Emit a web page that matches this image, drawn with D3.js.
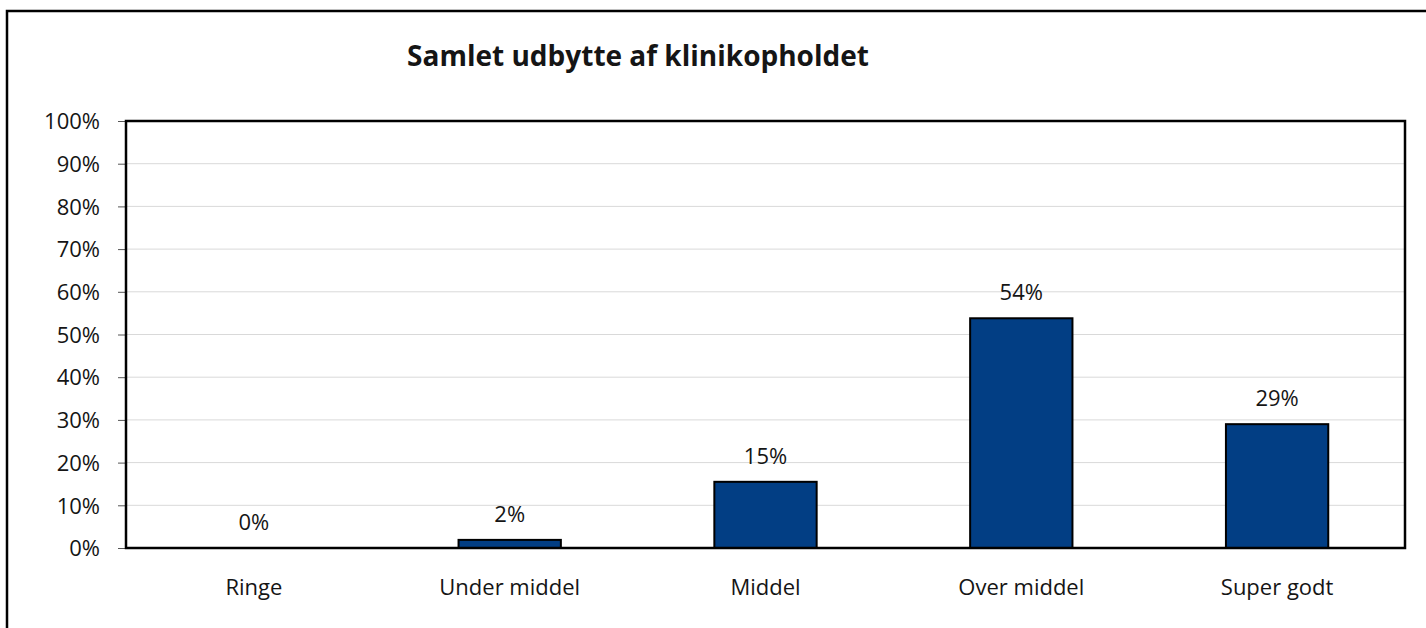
<!doctype html>
<html lang="da">
   <head>
      <meta charset="utf-8">
      <title>Samlet udbytte af klinikopholdet</title>
      <script src="https://d3js.org/d3.v7.min.js"></script>
      <style>
         body { margin: 0; background: #fff; }
         svg text { font-family: "Open Sans", sans-serif; fill: #151515; }
      </style>
   </head>
   <body>
      <svg id="chart" width="1426" height="628"></svg>
      <script>
      var title = "Samlet udbytte af klinikopholdet";
      var categories = ["Ringe", "Under middel", "Middel", "Over middel", "Super godt"];
      var values = [0, 0.019, 0.155, 0.538, 0.29];
      var labels = ["0%", "2%", "15%", "54%", "29%"];
      var yTicks = [0, 0.1, 0.2, 0.3, 0.4, 0.5, 0.6, 0.7, 0.8, 0.9, 1];

      var svg = d3.select("#chart"),
         plotLeft = 126, plotTop = 121, plotRight = 1405, plotBottom = 548;

      // outer chart frame (cut off at right and bottom like the source)
      svg.append("path")
         .attr("d", "M7,640 V11 H1440")
         .attr("fill", "none")
         .attr("stroke", "#000")
         .attr("stroke-width", 2.5);

      svg.append("text")
         .attr("x", 638)
         .attr("y", 66)
         .attr("text-anchor", "middle")
         .attr("font-size", 28)
         .attr("font-weight", 700)
         .text(title);

      var x = d3.scaleBand()
         .domain(categories)
         .range([plotLeft, plotRight])
         .paddingInner(0.6)
         .paddingOuter(0.3);

      var y = d3.scaleLinear()
         .domain([0, 1])
         .range([plotBottom, plotTop]);

      // gridlines
      svg.append("g")
         .selectAll("line")
         .data(yTicks.slice(1, -1))
         .enter().append("line")
         .attr("x1", plotLeft)
         .attr("x2", plotRight)
         .attr("y1", function(d) { return y(d); })
         .attr("y2", function(d) { return y(d); })
         .attr("stroke", "#d9d9d9")
         .attr("stroke-width", 1);

      var yAxis = svg.append("g")
         .attr("transform", "translate(" + plotLeft + ",0)")
         .call(d3.axisLeft(y).tickValues(yTicks).tickFormat(d3.format(".0%")).tickSize(8).tickPadding(18));
      yAxis.select(".domain").remove();
      yAxis.selectAll("line").attr("stroke", "#555");
      yAxis.selectAll("text").attr("font-size", 22).attr("dy", "0.35em");

      var xAxis = svg.append("g")
         .attr("transform", "translate(0," + plotBottom + ")")
         .call(d3.axisBottom(x).tickSize(0).tickPadding(31));
      xAxis.select(".domain").remove();
      xAxis.selectAll("text").attr("font-size", 22);

      svg.append("g")
         .selectAll("rect")
         .data(values)
         .enter().append("rect")
         .attr("x", function(d, i) { return x(categories[i]); })
         .attr("y", function(d) { return y(d); })
         .attr("width", x.bandwidth())
         .attr("height", function(d) { return plotBottom - y(d); })
         .attr("fill", "#023e84")
         .attr("stroke", "#000")
         .attr("stroke-width", 2);

      svg.append("g")
         .selectAll("text")
         .data(values)
         .enter().append("text")
         .attr("x", function(d, i) { return x(categories[i]) + x.bandwidth() / 2; })
         .attr("y", function(d) { return y(d) - 18; })
         .attr("text-anchor", "middle")
         .attr("font-size", 22)
         .text(function(d, i) { return labels[i]; });

      // plot area frame
      svg.append("rect")
         .attr("x", plotLeft)
         .attr("y", plotTop)
         .attr("width", plotRight - plotLeft)
         .attr("height", plotBottom - plotTop)
         .attr("fill", "none")
         .attr("stroke", "#000")
         .attr("stroke-width", 2.5);
      </script>
   </body>
</html>
